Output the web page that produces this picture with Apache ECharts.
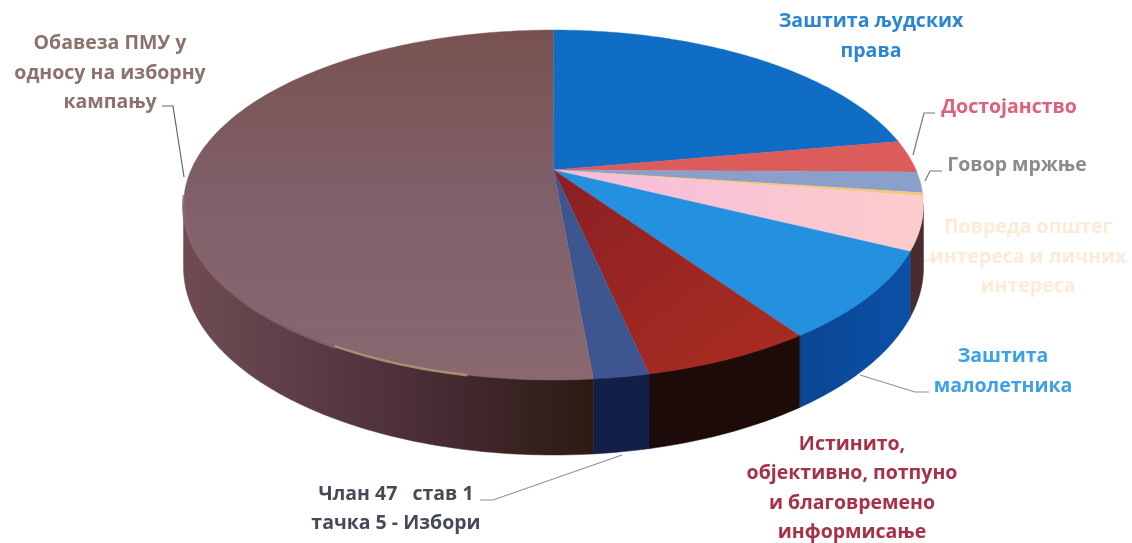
<!DOCTYPE html>
<html><head><meta charset="utf-8">
<style>html,body{margin:0;padding:0;background:#fff}#main{width:1132px;height:543px;filter:blur(0.7px)}</style>
<script src="https://cdn.jsdelivr.net/npm/echarts@6/dist/echarts.min.js"></script>
</head><body><div id="main"></div>
<script>
// Data (share of the pie, clockwise from 12 o'clock)
const categories = ['Заштита људских права','Достојанство','Говор мржње','Повреда општег интереса и личних интереса','Остало','Заштита малолетника','Истинито, објективно, потпуно и благовремено информисање','Члан 47 став 1 тачка 5 - Избори','Обавеза ПМУ у односу на изборну кампању'];
const values = [22.2,3.0,1.9,0.3,4.9,8.1,6.2,2.0,51.4];
const labelTexts = ['Заштита људских\nправа','Достојанство','Говор мржње','Повреда општег\nинтереса и личних\nинтереса','Заштита\nмалолетника','Истинито,\nобјективно, потпуно\nи благовремено\nинформисање','Члан 47   став 1\nтачка 5 - Избори','Обавеза ПМУ у\nодносу на изборну\nкампању'];

// Styles and layout
const topColors = ['#0f6dc6','#dc5c5c','#8b9fcb','#f6c67c',['#f6bcdc','#fbcccc'],'#2491e0',['#8a1f24','#a52b22'],'#3d5690',['#785250','#80606a','#8a6870']];
const wallColors = [null,null,null,'#3d2428','#4a2c30',['#0b4a9a','#0a4c9e'],'#1c0b09','#131f48',['#6f4c52','#4d303c','#2a180f']];
const labelColors = ['#2a86d4','#e0607c','#8c8c8c','#fcebd6','#3ea0e6','#a83048','#454a55','#8c726c'];
const labelPos = [[871,36.5],[1009,107],[1017,165],[1028,257],[1003,371.5],[852,488.5],[396,509],[110,73]];
const leaders = [[[913,155],[924,113],[935,113]],[[925,181],[930,171],[942,171]],[[922,262],[937,258]],[[860,375],[915,392],[929,392]],[[622,455],[493,500],[480,500]],[[162,106],[173,106],[184,177]]];
const leaderColors = ['#777','#777','#f4e4d0','#8890a8','#8890a0','#666'];

// Perspective disk: apex at (cx,cy)
const cx=553.5, cy=170, A=362.5, B=168, K=0.2, DEPTH=60;
function proj(deg){const t=deg*Math.PI/180,u=Math.sin(t),v=-Math.cos(t),s=1/(1-K*v);
  return {x:cx+A*u*s,y:cy+B*v*s,d:DEPTH*s};}
const WALL_START=101.5, WALL_END=258.5;
function grad(c,vertical){
  if(!Array.isArray(c))return c;
  const stops=c.map((col,i)=>({offset:i/(c.length-1),color:col}));
  return vertical?new echarts.graphic.LinearGradient(0,30,0,380,stops,true):new echarts.graphic.LinearGradient(cx-370,0,cx+60,0,stops,true);
}
let acc=0; const total=values.reduce((a,b)=>a+b,0);
const rows=values.map((v,i)=>{const a=acc/total*360;acc+=v;return [a,acc/total*360,i];});

function renderItem(params,api){
  const a0=api.value(0),a1=api.value(1),i=api.value(2),kids=[];
  const pts=[[cx,cy]];
  const n=Math.max(2,Math.ceil(a1-a0));
  for(let k=0;k<=n;k++){const p=proj(a0+(a1-a0)*k/n);pts.push([p.x,p.y]);}
  const ws=Math.max(a0,WALL_START),we=Math.min(a1,WALL_END);
  if(we>ws&&wallColors[i]){
    const up=[],down=[],m=Math.max(2,Math.ceil(we-ws));
    for(let k=0;k<=m;k++){const p=proj(ws+(we-ws)*k/m);up.push([p.x,p.y-0.5]);down.unshift([p.x,p.y+p.d]);}
    const wc=i===5?new echarts.graphic.LinearGradient(790,0,910,0,[{offset:0,color:'#0a4690'},{offset:1,color:'#0c50a8'}],true):grad(wallColors[i],false);
    kids.push({type:'polygon',shape:{points:up.concat(down)},style:{fill:wc,stroke:wc,lineWidth:0.5}});
  }
  const fc=i===4?new echarts.graphic.LinearGradient(cx,0,920,0,[{offset:0,color:'#f6bcdc'},{offset:1,color:'#fbcccc'}],true):
    i===6?new echarts.graphic.LinearGradient(cx,170,700,370,[{offset:0,color:'#8a1f24'},{offset:1,color:'#a52b22'}],true):grad(topColors[i],true);
  kids.push({type:'polygon',shape:{points:pts},style:{fill:fc,stroke:fc,lineWidth:0.4}});
  if(i===8){
    const rim=[];for(let d=191;d<=210;d+=1){const p=proj(d);rim.push([p.x,p.y]);}
    kids.push({type:'polyline',shape:{points:rim},style:{stroke:'#b09a72',lineWidth:2.5,fill:null,opacity:0.85}});
    const rim2=[];for(let d=210;d<=262;d+=1){const p=proj(d);rim2.push([p.x,p.y+1]);}
    kids.push({type:'polyline',shape:{points:rim2},style:{stroke:'#8a6670',lineWidth:3,fill:null,opacity:0.8}});
  }
  return {type:'group',children:kids};
}

const graphics=[];
leaders.forEach((l,i)=>graphics.push({type:'polyline',silent:true,shape:{points:l},style:{stroke:leaderColors[i],lineWidth:1.2,fill:null}}));
labelTexts.forEach((t,i)=>graphics.push({type:'text',silent:true,x:labelPos[i][0],y:labelPos[i][1],
  style:{text:t,fill:labelColors[i],fontFamily:'Open Sans',fontWeight:'bold',fontSize:19.5,align:'center',verticalAlign:'middle',lineHeight:29.3}}));

const chart=echarts.init(document.getElementById('main'),null,{renderer:'canvas'});
chart.setOption({animation:false,backgroundColor:'#fff',
  series:[{type:'custom',coordinateSystem:'none',silent:true,renderItem,data:rows}],
  graphic:graphics});
</script></body></html>
